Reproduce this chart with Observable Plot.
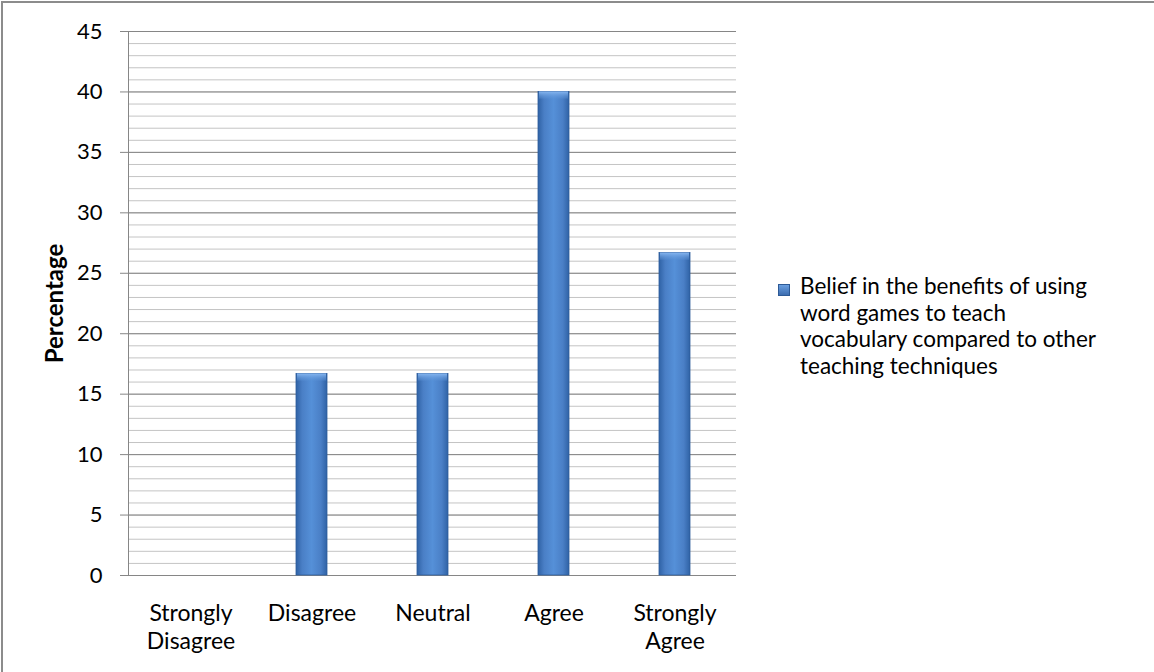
<!DOCTYPE html>
<html><head><meta charset="utf-8">
<script src="https://cdn.jsdelivr.net/npm/d3@7"></script>
<script src="https://cdn.jsdelivr.net/npm/@observablehq/plot@0.6"></script>
<style>
html,body{margin:0;padding:0;background:#fff;overflow:hidden;}
#wrap{position:relative;width:1154px;height:672px;overflow:hidden;}
#border{position:absolute;left:1px;top:1px;width:1180px;height:700px;border:2px solid #8c8c8c;box-sizing:border-box;pointer-events:none;}
#legend{position:absolute;left:778px;top:273px;font-family:Lato,"Open Sans",sans-serif;font-size:22.5px;line-height:26.5px;color:#000;}
#legend .sw{position:absolute;left:0;top:11px;width:12px;height:12px;background:linear-gradient(to bottom,#6a9fe0,#3c6db0);border:1px solid #2d5a96;box-sizing:border-box;}
#legend .txt{margin-left:22px;white-space:nowrap;}
</style></head><body><div id="wrap"><div id="border"></div><div id="legend"></div></div>
<script>
const categories = ["Strongly Disagree", "Disagree", "Neutral", "Agree", "Strongly Agree"];
const values = [0, 16.67, 16.67, 40, 26.67];
const yTicks = [0, 5, 10, 15, 20, 25, 30, 35, 40, 45];
const yLabel = "Percentage";
const legendLines = ["Belief in the benefits of using", "word games to teach", "vocabulary compared to other", "teaching techniques"];

const data = categories.map((c, i) => ({category: c, value: values[i]}));
const minorGrid = d3.range(0, 46);

const chart = Plot.plot({
  width: 1154,
  height: 672,
  marginLeft: 128,
  marginRight: 418,
  marginTop: 31,
  marginBottom: 97,
  style: {fontFamily: 'Lato, "Open Sans", sans-serif', fontSize: "22px", color: "#000", background: "transparent"},
  x: {domain: categories, paddingInner: 0.745, paddingOuter: 0.3725},
  y: {domain: [0, 45]},
  marks: [
    Plot.ruleY(minorGrid, {stroke: "#c4c4c4", strokeWidth: 1}),
    Plot.ruleY(yTicks, {stroke: "#868686", strokeWidth: 1}),
    Plot.barY(data.filter(d => d.value > 0), {x: "category", y: "value", fill: "url(#barGrad)", stroke: "#2e5d9c", strokeWidth: 0.8}),
    Plot.barY(data.filter(d => d.value > 0), {x: "category", y1: d => d.value - 0.6, y2: "value", fill: "url(#capGrad)", insetLeft: 1, insetRight: 1}),
    Plot.frame({anchor: "left", stroke: "#868686"}),
    Plot.axisY({ticks: yTicks, tickSize: 8, tickPadding: 18, stroke: "#868686", fill: "#000", fontSize: 22, label: null}),
    Plot.axisX({tickSize: 0, tickPadding: 25, lineHeight: 1.24, fill: "#000", fontSize: 23, tickFormat: d => d.replace(" ", "\n"), label: null}),
    Plot.text([yLabel], {frameAnchor: "left", dx: -73, rotate: -90, textAnchor: "middle", fontWeight: "bold", fontSize: 24, fill: "#000", text: d => d})
  ]
});

chart.insertAdjacentHTML("afterbegin", `<defs>
<linearGradient id="barGrad" x1="0" x2="1" y1="0" y2="0">
<stop offset="0" stop-color="#2f62a5"/>
<stop offset="0.2" stop-color="#4a7fc6"/>
<stop offset="0.5" stop-color="#5590d8"/>
<stop offset="0.8" stop-color="#4a7fc6"/>
<stop offset="1" stop-color="#2f62a5"/>
</linearGradient>
<linearGradient id="capGrad" x1="0" x2="0" y1="0" y2="1">
<stop offset="0" stop-color="#86b6f0"/>
<stop offset="1" stop-color="#5b92d6" stop-opacity="0.3"/>
</linearGradient>
</defs>`);

document.getElementById("wrap").prepend(chart);

const legend = document.getElementById("legend");
legend.innerHTML = '<div class="sw"></div><div class="txt"></div>';
const txt = legend.querySelector(".txt");
legendLines.forEach((line, i) => {
  if (i) txt.appendChild(document.createElement("br"));
  txt.appendChild(document.createTextNode(line));
});
</script>
</body></html>
